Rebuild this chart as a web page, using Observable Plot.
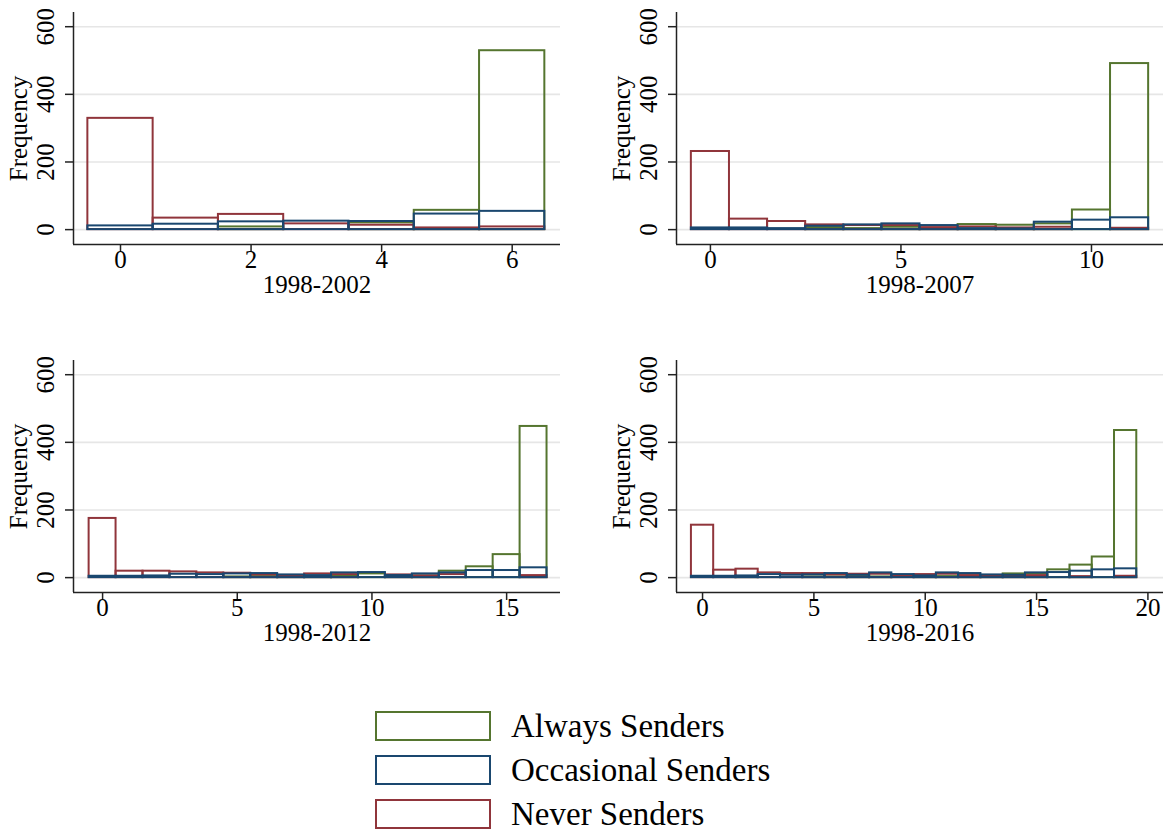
<!DOCTYPE html>
<html>
<head>
<meta charset="utf-8">
<script src="https://cdn.jsdelivr.net/npm/d3@7"></script>
<script src="https://cdn.jsdelivr.net/npm/@observablehq/plot@0.6"></script>
<style>
  html, body { margin: 0; padding: 0; background: #fff; }
  #wrap { position: relative; width: 1170px; height: 833px; overflow: hidden; font-family: "Liberation Serif", serif; }
  .panel { position: absolute; }
  .leg { position: absolute; left: 375px; width: 112px; height: 26px; border: 2.5px solid; box-sizing: content-box; }
  .legtxt { position: absolute; left: 511px; font-size: 33px; line-height: 1; color: #000; white-space: nowrap; }
</style>
</head>
<body>
<div id="wrap"></div>
<script>
// ---- data ----
const groupNames = ["Always Senders", "Occasional Senders", "Never Senders"];
const groupColors = ["#55752f", "#1a476f", "#90353b"];
const yTicks = [0, 200, 400, 600];

// 1998-2002 (0..6 years)
const always1 = [0, 0, 8, 0, 20, 57, 529];
const occasional1 = [11, 16, 23, 25, 24, 46, 54];
const never1 = [329, 34, 45, 17, 13, 5, 8];
const xTicks1 = [0, 2, 4, 6];

// 1998-2007 (0..11 years)
const always2 = [0, 0, 0, 6, 3, 7, 2, 15, 13, 17, 58, 491];
const occasional2 = [5, 5, 3, 10, 14, 17, 12, 3, 2, 22, 28, 35];
const never2 = [231, 31, 24, 14, 12, 12, 6, 8, 5, 7, 0, 4];
const xTicks2 = [0, 5, 10];

// 1998-2012 (0..16 years)
const always3 = [0, 0, 0, 0, 0, 2, 3, 2, 3, 5, 11, 3, 5, 19, 32, 68, 447];
const occasional3 = [4, 4, 5, 10, 9, 11, 12, 8, 6, 14, 15, 6, 11, 14, 21, 21, 29];
const never3 = [175, 19, 19, 17, 14, 13, 8, 4, 11, 9, 0, 8, 5, 9, 0, 0, 6];
const xTicks3 = [0, 5, 10, 15];

// 1998-2016 (0..19 years)
const always4 = [0, 0, 2, 0, 0, 2, 2, 3, 2, 0, 4, 3, 5, 5, 11, 11, 23, 37, 61, 435];
const occasional4 = [4, 4, 5, 9, 7, 8, 12, 7, 14, 9, 5, 14, 12, 8, 7, 14, 15, 19, 23, 26];
const never4 = [155, 22, 25, 14, 12, 12, 8, 10, 10, 6, 9, 10, 6, 4, 4, 6, 0, 3, 0, 4];
const xTicks4 = [0, 5, 10, 15, 20];

const periods = ["1998-2002", "1998-2007", "1998-2012", "1998-2016"];

// ---- drawing ----
function makePanel(always, occasional, never, xTicks, label, xDomain, ml, mr) {
  const rows = [];
  // draw order: Always, Never, Occasional (occasional on top)
  [[always, groupNames[0]], [never, groupNames[2]], [occasional, groupNames[1]]].forEach(([vals, name]) => {
    vals.forEach((v, i) => rows.push({x1: i - 0.5, x2: i + 0.5, y: v, group: name}));
  });
  const yDomain = [-44, 642];
  return Plot.plot({
    width: 585,
    height: 320,
    marginLeft: ml,
    marginRight: mr,
    marginTop: 12,
    marginBottom: 76,
    x: {domain: xDomain},
    y: {domain: yDomain},
    color: {domain: groupNames, range: groupColors},
    style: {fontFamily: "Liberation Serif, serif", fontSize: "25px", background: "transparent", overflow: "visible", color: "#000"},
    marks: [
      Plot.gridY(yTicks, {stroke: "#e6e6e6", strokeOpacity: 1, strokeWidth: 1.6}),
      Plot.rect(rows, {x1: "x1", x2: "x2", y1: 0, y2: "y", stroke: "group", fill: "none", strokeWidth: 2}),
      Plot.ruleX([xDomain[0]], {stroke: "#222", strokeWidth: 1.5}),
      Plot.ruleY([yDomain[0]], {stroke: "#222", strokeWidth: 1.5}),
      Plot.axisY(yTicks, {tickSize: 8, tickFormat: () => "", label: null, stroke: "#222", strokeWidth: 1.5}),
      Plot.axisX(xTicks, {tickSize: 8, tickFormat: () => "", label: null, stroke: "#222", strokeWidth: 1.5}),
      Plot.text(yTicks, {y: d => d, frameAnchor: "left", textAnchor: "middle", dx: -28, rotate: -90, text: d => String(d), fontSize: 25}),
      Plot.text(xTicks, {x: d => d, frameAnchor: "bottom", textAnchor: "middle", dy: 23, text: d => String(d), fontSize: 25}),
      Plot.text(["Frequency"], {frameAnchor: "left", textAnchor: "middle", dx: -55, rotate: -90, text: d => d, fontSize: 25}),
      Plot.text([label], {frameAnchor: "bottom", textAnchor: "middle", dy: 48, text: d => d, fontSize: 25})
    ]
  });
}

const wrap = document.getElementById("wrap");
const specs = [
  [always1, occasional1, never1, xTicks1, periods[0], [-0.72, 6.74], 73, 25, 0, 0],
  [always2, occasional2, never2, xTicks2, periods[1], [-0.89, 11.89], 91, 7, 585, 0],
  [always3, occasional3, never3, xTicks3, periods[2], [-1.08, 17.0], 73, 25, 0, 348],
  [always4, occasional4, never4, xTicks4, periods[3], [-1.17, 20.7], 91, 7, 585, 348]
];
specs.forEach(([a, o, n, t, lab, xd, ml, mr, left, top]) => {
  const svg = makePanel(a, o, n, t, lab, xd, ml, mr);
  const div = document.createElement("div");
  div.className = "panel";
  div.style.left = left + "px";
  div.style.top = top + "px";
  div.appendChild(svg);
  wrap.appendChild(div);
});

// legend
const legTops = [711, 755, 799];
groupNames.forEach((name, i) => {
  const box = document.createElement("div");
  box.className = "leg";
  box.style.top = legTops[i] + "px";
  box.style.borderColor = groupColors[i];
  wrap.appendChild(box);
  const txt = document.createElement("div");
  txt.className = "legtxt";
  txt.style.top = (legTops[i] - 1) + "px";
  txt.textContent = name;
  wrap.appendChild(txt);
});
</script>
</body>
</html>
